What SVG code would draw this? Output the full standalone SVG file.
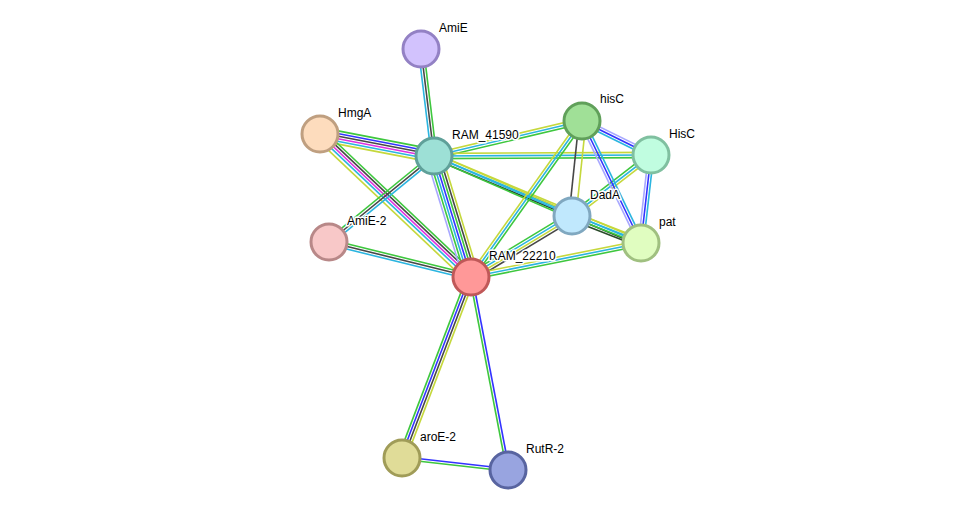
<svg xmlns="http://www.w3.org/2000/svg" width="975" height="516" viewBox="0 0 975 516">
<style>
.e line{stroke-width:1.6;fill:none}
.g{stroke:#3ec73e}.y{stroke:#c5d83c}.c{stroke:#2bb5e0}.k{stroke:#474747}.b{stroke:#3333ff}.m{stroke:#e030e0}.p{stroke:#a8a8ff}.d{stroke:#2a4a2a}
.n circle{stroke-width:3}
text{font-family:"Liberation Sans",Arial,sans-serif;font-size:12px;fill:#000;stroke:#fff;stroke-width:3;paint-order:stroke;stroke-linejoin:round}
</style>
<rect width="975" height="516" fill="#fff"/>
<g id="edges" class="e">
<g transform="translate(421 49) rotate(83.07)"><line x2="107.8" y1="2.6" y2="2.6" class="c"/><line x2="107.8" class="k"/><line x2="107.8" y1="-2.6" y2="-2.6" class="g"/></g>
<g transform="translate(320 134) rotate(10.92)"><line x2="116.1" y1="-6.5" y2="-6.5" class="g"/><line x2="116.1" y1="-3.9" y2="-3.9" class="b"/><line x2="116.1" y1="-1.3" y2="-1.3" class="k"/><line x2="116.1" y1="1.3" y2="1.3" class="m"/><line x2="116.1" y1="3.9" y2="3.9" class="c"/><line x2="116.1" y1="6.5" y2="6.5" class="y"/></g>
<g transform="translate(320 134) rotate(43.44)"><line x2="208" y1="-5.2" y2="-5.2" class="g"/><line x2="208" y1="-2.6" y2="-2.6" class="k"/><line x2="208" class="m"/><line x2="208" y1="2.6" y2="2.6" class="c"/><line x2="208" y1="6" y2="6" class="y"/></g>
<g transform="translate(329 242) rotate(-39.32)"><line x2="135.7" y1="-2.6" y2="-2.6" class="g"/><line x2="135.7" class="k"/><line x2="135.7" y1="2.6" y2="2.6" class="c"/></g>
<g transform="translate(329 242) rotate(13.85)"><line x2="146.3" y1="-2.6" y2="-2.6" class="g"/><line x2="146.3" class="k"/><line x2="146.3" y1="2.6" y2="2.6" class="c"/></g>
<g transform="translate(434 156) rotate(73)"><line x2="126.5" y1="-7.8" y2="-7.8" class="y"/><line x2="126.5" y1="-5.2" y2="-5.2" class="k"/><line x2="126.5" y1="-2.6" y2="-2.6" class="g"/><line x2="126.5" class="b"/><line x2="126.5" y1="2.6" y2="2.6" class="c"/><line x2="126.5" y1="5.2" y2="5.2" class="g"/><line x2="126.5" y1="7.8" y2="7.8" class="p"/></g>
<g transform="translate(434 156) rotate(-13.3)"><line x2="152.1" y1="-2.6" y2="-2.6" class="y"/><line x2="152.1" class="c"/><line x2="152.1" y1="2.6" y2="2.6" class="g"/></g>
<g transform="translate(434 156) rotate(-0.26)"><line x2="217" y1="-2.6" y2="-2.6" class="y"/><line x2="217" class="c"/><line x2="217" y1="2.6" y2="2.6" class="g"/></g>
<g transform="translate(434 156) rotate(22.8)"><line x2="224.5" y1="-2.6" y2="-2.6" class="y"/><line x2="224.5" class="c"/><line x2="224.5" y1="2.6" y2="2.6" class="d"/></g>
<g transform="translate(434 156) rotate(23.5)"><line x2="150.5" y1="-2.6" y2="-2.6" class="y"/><line x2="150.5" class="c"/><line x2="150.5" y1="2.6" y2="2.6" class="g"/></g>
<g transform="translate(471 277) rotate(-54.57)"><line x2="191.5" y1="-2.6" y2="-2.6" class="y"/><line x2="191.5" class="c"/><line x2="191.5" y1="2.6" y2="2.6" class="g"/></g>
<g transform="translate(471 277) rotate(-31.13)"><line x2="118" y1="-3.9" y2="-3.9" class="g"/><line x2="118" y1="-1.3" y2="-1.3" class="c"/><line x2="118" y1="1.3" y2="1.3" class="y"/><line x2="118" y1="3.9" y2="3.9" class="k"/></g>
<g transform="translate(471 277) rotate(-11.31)"><line x2="173.4" y1="-2.6" y2="-2.6" class="y"/><line x2="173.4" class="c"/><line x2="173.4" y1="2.6" y2="2.6" class="g"/></g>
<g transform="translate(572 216) rotate(-37.67)"><line x2="99.8" y1="-2.6" y2="-2.6" class="g"/><line x2="99.8" class="c"/><line x2="99.8" y1="2.6" y2="2.6" class="y"/></g>
<g transform="translate(582 121) rotate(26.23)"><line x2="76.9" y1="-2.6" y2="-2.6" class="p"/><line x2="76.9" class="b"/><line x2="76.9" y1="2.6" y2="2.6" class="c"/></g>
<g transform="translate(582 121) rotate(96.01)"><line x2="95.5" y1="3" y2="3" class="k"/><line x2="95.5" y1="-4" y2="-4" class="y"/></g>
<g transform="translate(582 121) rotate(64.19)"><line x2="135.5" y1="-2.6" y2="-2.6" class="c"/><line x2="135.5" class="b"/><line x2="135.5" y1="2.6" y2="2.6" class="p"/></g>
<g transform="translate(651 155) rotate(96.48)"><line x2="88.6" y1="-2.6" y2="-2.6" class="c"/><line x2="88.6" class="b"/><line x2="88.6" y1="2.6" y2="2.6" class="p"/></g>
<g transform="translate(572 216) rotate(21.37)"><line x2="74.1" y1="-3.9" y2="-3.9" class="y"/><line x2="74.1" y1="-1.3" y2="-1.3" class="c"/><line x2="74.1" y1="1.3" y2="1.3" class="g"/><line x2="74.1" y1="3.9" y2="3.9" class="d"/></g>
<g transform="translate(471 277) rotate(110.87)"><line x2="193.7" y1="-3.9" y2="-3.9" class="y"/><line x2="193.7" y1="-1.3" y2="-1.3" class="k"/><line x2="193.7" y1="1.3" y2="1.3" class="b"/><line x2="193.7" y1="3.9" y2="3.9" class="g"/></g>
<g transform="translate(471 277) rotate(79.15)"><line x2="196.5" y1="-1.3" y2="-1.3" class="b"/><line x2="196.5" y1="1.3" y2="1.3" class="g"/></g>
<g transform="translate(402 458) rotate(6.46)"><line x2="106.7" y1="-1.3" y2="-1.3" class="b"/><line x2="106.7" y1="1.3" y2="1.3" class="g"/></g>
</g>
<g id="AmiE" class="n"><circle cx="421" cy="49" r="18" fill="#d2c2fd" stroke="#9381c4"/><text x="439" y="32">AmiE</text></g>
<g id="HmgA" class="n"><circle cx="320" cy="134" r="18" fill="#fddcbd" stroke="#bf9f80"/><text x="338" y="117">HmgA</text></g>
<g id="RAM_41590" class="n"><circle cx="434" cy="156" r="18" fill="#9de0d6" stroke="#5fa099"/><text x="452" y="139">RAM_41590</text></g>
<g id="hisC" class="n"><circle cx="582" cy="121" r="18" fill="#a0e097" stroke="#60a05a"/><text x="600" y="103">hisC</text></g>
<g id="HisC" class="n"><circle cx="651" cy="155" r="18" fill="#c0fde0" stroke="#80c0a0"/><text x="669" y="138">HisC</text></g>
<g id="DadA" class="n"><circle cx="572" cy="216" r="18" fill="#c0e8fd" stroke="#80a8c0"/><text x="590" y="199">DadA</text></g>
<g id="pat" class="n"><circle cx="641" cy="243" r="18" fill="#e0fdc0" stroke="#a0c080"/><text x="659" y="226">pat</text></g>
<g id="AmiE-2" class="n"><circle cx="329" cy="242" r="18" fill="#f8c8c8" stroke="#b88888"/><text x="347" y="225">AmiE-2</text></g>
<g id="RAM_22210" class="n"><circle cx="471" cy="277" r="18" fill="#ff9898" stroke="#c05858"/><text x="489" y="260">RAM_22210</text></g>
<g id="aroE-2" class="n"><circle cx="402" cy="458" r="18" fill="#e0dc98" stroke="#a09c58"/><text x="420" y="441">aroE-2</text></g>
<g id="RutR-2" class="n"><circle cx="508" cy="470" r="18" fill="#98a4e0" stroke="#5864a0"/><text x="526" y="453">RutR-2</text></g>
</svg>
